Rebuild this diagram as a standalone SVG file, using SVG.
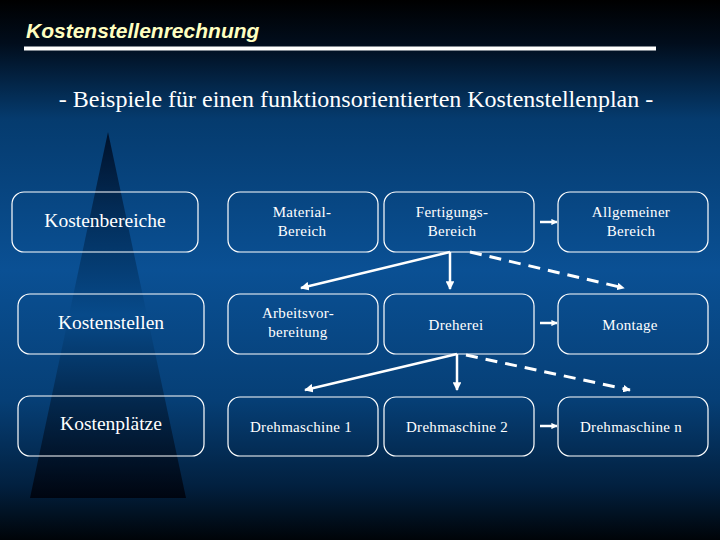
<svg xmlns="http://www.w3.org/2000/svg" width="720" height="540" viewBox="0 0 720 540">
<defs>
<linearGradient id="bg" x1="0" y1="0" x2="0" y2="1">
<stop offset="0" stop-color="#000000"/>
<stop offset="0.08" stop-color="#010d1c"/>
<stop offset="0.22" stop-color="#053b6e"/>
<stop offset="0.5" stop-color="#0a5094"/>
<stop offset="0.74" stop-color="#063f76"/>
<stop offset="0.9" stop-color="#02203f"/>
<stop offset="1" stop-color="#000408"/>
</linearGradient>
<linearGradient id="tri" x1="0" y1="0" x2="0" y2="1">
<stop offset="0" stop-color="#00112a"/>
<stop offset="0.25" stop-color="#03305e"/>
<stop offset="0.5" stop-color="#074a8a"/>
<stop offset="0.75" stop-color="#03264a"/>
<stop offset="1" stop-color="#000510"/>
</linearGradient>
<marker id="ah" viewBox="0 0 10 10" refX="9" refY="5" markerWidth="3.5" markerHeight="3.5" orient="auto" markerUnits="strokeWidth">
<path d="M0,0 L10,5 L0,10 z" fill="#ffffff"/>
</marker>
<marker id="ahs" viewBox="0 0 10 10" refX="9" refY="5" markerWidth="2.5" markerHeight="2.5" orient="auto" markerUnits="strokeWidth">
<path d="M0,0 L10,5 L0,10 z" fill="#ffffff"/>
</marker>
</defs>
<style>
.box{fill:none;stroke:#ffffff;stroke-width:1.2}
.t{fill:#ffffff;text-anchor:middle}
.s{font-size:15px;letter-spacing:0.3px}
.l{font-size:19.5px}
.solid{stroke:#ffffff;stroke-width:2.5;fill:none}
.dash{stroke:#ffffff;stroke-width:3;fill:none;stroke-dasharray:12 8}
.small{stroke:#ffffff;stroke-width:2.5;fill:none}
</style>
<rect x="0" y="0" width="720" height="540" fill="url(#bg)"/>
<polygon points="108,132 186,498 30,498" fill="url(#tri)"/>
<text x="26" y="38" font-family="'Liberation Sans', Arial, sans-serif" font-size="21" font-weight="bold" font-style="italic" fill="#ffffc0">Kostenstellenrechnung</text>
<rect x="24" y="46.5" width="632" height="4" fill="#ffffff"/>
<g font-family="'Liberation Serif', 'Times New Roman', serif">
<text class="t" x="356" y="107" font-size="24">- Beispiele für einen funktionsorientierten Kostenstellenplan -</text>

<g id="kostenbereiche"><rect class="box" x="12" y="192" width="186" height="60" rx="12"/><text class="t l" x="105" y="227">Kostenbereiche</text></g>
<g id="kostenstellen"><rect class="box" x="18" y="294" width="186" height="60" rx="12"/><text class="t l" x="111" y="329">Kostenstellen</text></g>
<g id="kostenplaetze"><rect class="box" x="18" y="396" width="186" height="60" rx="12"/><text class="t l" x="111" y="430">Kostenplätze</text></g>

<g id="material"><rect class="box" x="228" y="192" width="150" height="60" rx="12"/><text class="t s" x="302" y="217">Material-</text><text class="t s" x="302" y="236">Bereich</text></g>
<g id="fertigung"><rect class="box" x="384" y="192" width="150" height="60" rx="12"/><text class="t s" x="452" y="217">Fertigungs-</text><text class="t s" x="452" y="236">Bereich</text></g>
<g id="allgemein"><rect class="box" x="558" y="192" width="150" height="60" rx="12"/><text class="t s" x="631" y="217">Allgemeiner</text><text class="t s" x="631" y="236">Bereich</text></g>

<g id="arbeitsvorbereitung"><rect class="box" x="228" y="294" width="150" height="60" rx="12"/><text class="t s" x="298" y="318">Arbeitsvor-</text><text class="t s" x="298" y="337">bereitung</text></g>
<g id="dreherei"><rect class="box" x="384" y="294" width="150" height="60" rx="12"/><text class="t s" x="456" y="330">Dreherei</text></g>
<g id="montage"><rect class="box" x="558" y="294" width="150" height="60" rx="12"/><text class="t s" x="630" y="330">Montage</text></g>

<g id="drehmaschine1"><rect class="box" x="228" y="397" width="150" height="59" rx="12"/><text class="t s" x="301" y="432">Drehmaschine 1</text></g>
<g id="drehmaschine2"><rect class="box" x="384" y="397" width="150" height="59" rx="12"/><text class="t s" x="457" y="432">Drehmaschine 2</text></g>
<g id="drehmaschinen"><rect class="box" x="558" y="397" width="150" height="59" rx="12"/><text class="t s" x="631" y="432">Drehmaschine n</text></g>
</g>
<g id="connectors">
<line class="small" x1="540" y1="222" x2="557" y2="222" marker-end="url(#ahs)"/>
<line class="small" x1="540" y1="323" x2="557" y2="323" marker-end="url(#ahs)"/>
<line class="small" x1="540" y1="426" x2="557" y2="426" marker-end="url(#ahs)"/>
<line class="solid" x1="450" y1="252" x2="301" y2="288" marker-end="url(#ah)"/>
<line class="solid" x1="450" y1="252" x2="450" y2="289" stroke-width="2" marker-end="url(#ah)"/>
<line class="dash" x1="470" y1="252" x2="624" y2="288" marker-end="url(#ahs)"/>
<line class="solid" x1="457" y1="354" x2="305" y2="390" marker-end="url(#ah)"/>
<line class="solid" x1="457" y1="354" x2="457" y2="390" stroke-width="2" marker-end="url(#ah)"/>
<line class="dash" x1="466" y1="355" x2="630" y2="390" marker-end="url(#ahs)"/>
</g>
</svg>
